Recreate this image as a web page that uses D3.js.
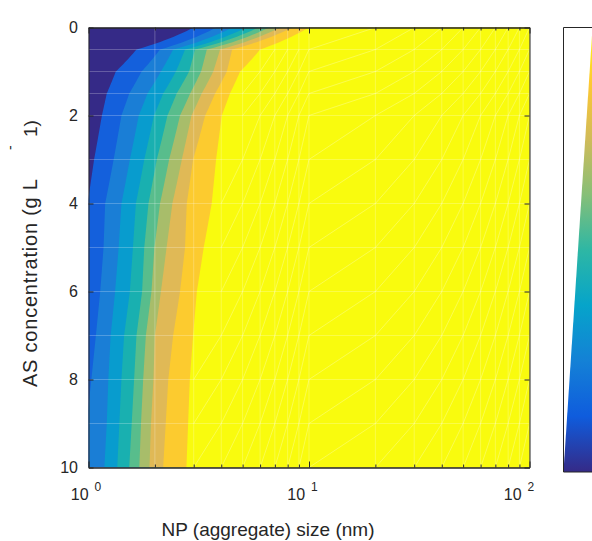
<!DOCTYPE html>
<html>
<head>
<meta charset="utf-8">
<script src="https://cdn.jsdelivr.net/npm/d3@7"></script>
<style>
  body { margin: 0; background: #fff; }
  text { font-family: "Liberation Sans", Arial, sans-serif; fill: #262626; }
</style>
</head>
<body>
<script>
// mesh of the data (AS concentration rows, NP size columns)
const concRows = [0, 0.5, 1, 1.5, 2, 3, 4, 5, 6, 7, 8, 9, 10];
const sizeMesh = [1, 2, 3, 4, 5, 6, 7, 8, 9, 10, 20, 30, 40, 50, 60, 70, 80, 90, 100];

// size (nm) where each contour level is crossed, one value per concRows entry
const edge1 = [3.0, 1.65, 1.33, 1.21, 1.15, 1.06, 0.99, 0.95, 0.92, 0.9, 0.88, 0.86, 0.85];
const edge2 = [3.8, 2.11, 1.74, 1.53, 1.41, 1.30, 1.19, 1.17, 1.13, 1.08, 1.03, 0.98, 0.95];
const edge3 = [4.5, 2.42, 2.13, 1.85, 1.69, 1.54, 1.41, 1.37, 1.32, 1.26, 1.23, 1.21, 1.18];
const edge4 = [5.2, 2.74, 2.49, 2.18, 1.98, 1.79, 1.64, 1.59, 1.54, 1.45, 1.41, 1.38, 1.35];
const edge5 = [5.9, 3.04, 2.86, 2.51, 2.28, 2.04, 1.87, 1.79, 1.75, 1.65, 1.61, 1.57, 1.53];
const edge6 = [6.6, 3.44, 3.24, 2.89, 2.60, 2.32, 2.11, 1.99, 1.93, 1.82, 1.77, 1.73, 1.70];
const edge7 = [7.4, 3.95, 3.68, 3.26, 2.93, 2.65, 2.40, 2.26, 2.13, 2.00, 1.97, 1.92, 1.89];
const edge8 = [8.4, 4.48, 4.24, 3.75, 3.38, 2.98, 2.79, 2.74, 2.60, 2.42, 2.30, 2.24, 2.18];
const edge9 = [10.0, 6.0, 4.87, 4.38, 4.02, 3.79, 3.62, 3.33, 3.10, 2.98, 2.88, 2.83, 2.78];
const edges = [edge1, edge2, edge3, edge4, edge5, edge6, edge7, edge8, edge9];

const yTicks = [0, 2, 4, 6, 8, 10];
const xMajor = [1, 10, 100];
const xExponents = ["0", "1", "2"];

// parula colours of the filled bands
const bandColors = ["#352a87", "#1460dc", "#1a7ed6", "#089cce", "#19b0b0",
                    "#58bd8c", "#a8bd6a", "#e0b956", "#fccb2f", "#f9fb0e"];
const parula = ["#352a87", "#0f5cdd", "#1481d6", "#06a4ca", "#2eb7a4",
                "#87bf77", "#d1bb59", "#fec832", "#f9fb0e"];

const width = 592, height = 541;
const svg = d3.select("body").append("svg")
  .attr("width", width).attr("height", height);

const x = d3.scaleLog().domain([1, 100]).range([88.5, 529.5]);
const y = d3.scaleLinear().domain([0, 10]).range([27.5, 467.5]);

svg.append("clipPath").attr("id", "plotClip")
  .append("rect")
  .attr("x", x(1)).attr("y", y(0))
  .attr("width", x(100) - x(1)).attr("height", y(10) - y(0));

const plot = svg.append("g").attr("clip-path", "url(#plotClip)");

// lowest band fills everything
plot.append("rect")
  .attr("x", x(1)).attr("y", y(0))
  .attr("width", x(100) - x(1)).attr("height", y(10) - y(0))
  .attr("fill", bandColors[0]);

// each level covers everything to the right of its edge
function edgePoints(edge) {
  const pts = [];
  for (let j = 0; j < concRows.length - 1; j++) {
    for (let s = 0; s < 12; s++) {
      const t = s / 12;
      const sz = edge[j] + (edge[j + 1] - edge[j]) * t;
      const c = concRows[j] + (concRows[j + 1] - concRows[j]) * t;
      pts.push([x(sz), y(c)]);
    }
  }
  const last = concRows.length - 1;
  pts.push([x(edge[last]), y(concRows[last])]);
  return pts;
}

edges.forEach((edge, i) => {
  const pts = edgePoints(edge);
  pts.push([x(100) + 2, y(10) + 2]);
  pts.push([x(100) + 2, y(0) - 2]);
  plot.append("path")
    .attr("d", d3.line()(pts) + "Z")
    .attr("fill", bandColors[i + 1]);
});

// faint mesh lines of the patch rendering
const mesh = plot.append("g")
  .attr("stroke", "#fff")
  .attr("stroke-width", 0.8)
  .attr("fill", "none");

sizeMesh.forEach((s) => {
  mesh.append("line")
    .attr("x1", x(s)).attr("x2", x(s))
    .attr("y1", y(0)).attr("y2", y(10))
    .attr("stroke-opacity", 0.3);
});
concRows.forEach((c) => {
  mesh.append("line")
    .attr("x1", x(1)).attr("x2", x(100))
    .attr("y1", y(c)).attr("y2", y(c))
    .attr("stroke-opacity", 0.3);
});
// triangle diagonals only show inside the top (yellow) patch
for (let i = 0; i < sizeMesh.length - 1; i++) {
  for (let j = 0; j < concRows.length - 1; j++) {
    if (sizeMesh[i] < Math.max(edge9[j], edge9[j + 1])) continue;
    mesh.append("line")
      .attr("x1", x(sizeMesh[i])).attr("y1", y(concRows[j + 1]))
      .attr("x2", x(sizeMesh[i + 1])).attr("y2", y(concRows[j]))
      .attr("stroke-opacity", 0.35);
  }
}

// axes, ticks pointing inwards
const minorTicks = [];
for (let d = 1; d < 100; d *= 10) {
  for (let m = 2; m <= 9; m++) minorTicks.push(d * m);
}

function styleAxis(g) {
  g.selectAll("path, line").attr("stroke", "#262626");
  g.select(".domain").attr("stroke-width", 1);
}

svg.append("g")
  .attr("transform", `translate(0,${y(10)})`)
  .call(d3.axisBottom(x).tickValues(minorTicks).tickSize(-3).tickSizeOuter(0).tickFormat(""))
  .call(styleAxis);
svg.append("g")
  .attr("transform", `translate(0,${y(10)})`)
  .call(d3.axisBottom(x).tickValues(xMajor).tickSize(-6).tickSizeOuter(0).tickFormat(""))
  .call(styleAxis);
svg.append("g")
  .attr("transform", `translate(0,${y(0)})`)
  .call(d3.axisTop(x).tickValues(minorTicks).tickSize(-3).tickSizeOuter(0).tickFormat(""))
  .call(styleAxis);
svg.append("g")
  .attr("transform", `translate(0,${y(0)})`)
  .call(d3.axisTop(x).tickValues(xMajor).tickSize(-6).tickSizeOuter(0).tickFormat(""))
  .call(styleAxis);

const yAxis = svg.append("g")
  .attr("transform", `translate(${x(1)},0)`)
  .call(d3.axisLeft(y).tickValues(yTicks).tickSize(-5).tickSizeOuter(0).tickPadding(10.5))
  .call(styleAxis);
yAxis.selectAll("text").attr("font-size", 16).attr("fill", "#262626")
  .style("font-family", '"Liberation Sans", Arial, sans-serif');

svg.append("g")
  .attr("transform", `translate(${x(100)},0)`)
  .call(d3.axisRight(y).tickValues(yTicks).tickSize(-5).tickSizeOuter(0).tickFormat(""))
  .call(styleAxis);

// x tick labels: 10 with a raised exponent
xMajor.forEach((v, i) => {
  const t = svg.append("text")
    .attr("x", x(v) - 2.5 - 4 * i)
    .attr("y", 500)
    .attr("text-anchor", "middle")
    .attr("font-size", 16);
  t.append("tspan").text("10");
  t.append("tspan").attr("dx", 6).attr("dy", -9).attr("font-size", 12).text(xExponents[i]);
});

// axis titles
svg.append("text")
  .attr("x", 268).attr("y", 536)
  .attr("text-anchor", "middle")
  .attr("font-size", 19)
  .text("NP (aggregate) size (nm)");

svg.append("text")
  .attr("transform", "translate(37,387) rotate(-90)")
  .attr("font-size", 20)
  .attr("textLength", 208)
  .attr("lengthAdjust", "spacing")
  .text("AS concentration (g L");
svg.append("text")
  .attr("transform", "translate(15,150) rotate(-90)")
  .attr("font-size", 14)
  .text("-");
svg.append("text")
  .attr("transform", "translate(37,137) rotate(-90)")
  .attr("font-size", 19)
  .text("1)");

// colour bar, cut by the window edge
const grad = svg.append("defs").append("linearGradient")
  .attr("id", "parulaGrad")
  .attr("x1", 0).attr("y1", 1).attr("x2", 0).attr("y2", 0);
parula.forEach((c, i) => {
  grad.append("stop")
    .attr("offset", i / (parula.length - 1))
    .attr("stop-color", c);
});

const cbTop = 27.5, cbBottom = 472, cbLeft = 563.5;
svg.append("path")
  .attr("d", d3.line()([[cbLeft, cbBottom], [592.5, cbTop], [620, cbTop], [620, cbBottom]]) + "Z")
  .attr("fill", "url(#parulaGrad)");
svg.append("path")
  .attr("d", d3.line()([[620, cbTop], [cbLeft, cbTop], [cbLeft, cbBottom], [620, cbBottom]]))
  .attr("fill", "none")
  .attr("stroke", "#262626")
  .attr("stroke-width", 1);
</script>
</body>
</html>
